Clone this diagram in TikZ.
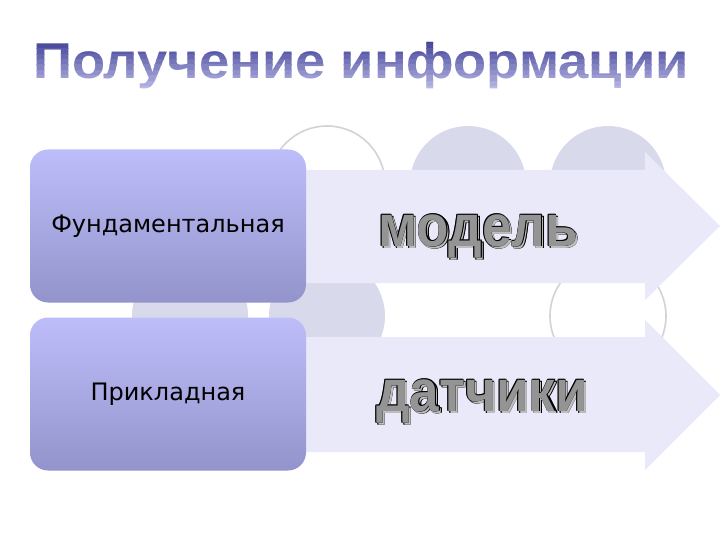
\documentclass[tikz,border=0pt]{standalone}
\usepackage{fontspec}
\setmainfont{Liberation Sans}
\newfontfamily\cardfont{DejaVu Sans}
\usetikzlibrary{positioning}
\definecolor{disc}{HTML}{D9D9EC}
\definecolor{ring}{HTML}{D2D2D8}
\definecolor{band}{HTML}{E9E9F9}
\definecolor{boxtop}{HTML}{BDBDFA}
\definecolor{boxbot}{HTML}{9494CC}
\definecolor{titletop}{HTML}{404098}
\definecolor{titlebot}{HTML}{D4D4F6}
\definecolor{word}{HTML}{949494}
\definecolor{wordshade}{HTML}{BDBDBD}
\tikzset{
	disc/.style={fill=disc},
	ring/.style={draw=ring,line width=1.6pt,fill=white},
	band/.style={fill=band},
	card/.style={rounded corners=18pt,top color=boxtop,bottom color=boxbot,minimum width=276pt,minimum height=153pt,font=\cardfont\fontsize{24}{24}\selectfont},
	headline/.style={anchor=base,inner sep=0pt,xscale=1.085,font=\bfseries\fontsize{50}{50}\selectfont},
	wordart/.style={anchor=base,inner sep=0pt,xscale=0.9,font=\bfseries\fontsize{59}{59}\selectfont}
}

\begin{document}
\begin{tikzpicture}[x=1pt,y=-1pt]
	\useasboundingbox[fill=white] (0,0) rectangle (720,540);
	
	\foreach \cx/\cy in {468/184,608/184,190/316,327/316}
		\fill[disc] (\cx,\cy) circle (58);
	\foreach \cx/\cy in {327/184,608/316}
		\draw[ring] (\cx,\cy) circle (58);
	
	\fill[band] (250,170)--(645,170)--(645,152)--(720,226)--(645,300)--(645,283)--(250,283)--cycle;
	\fill[band] (250,337)--(645,337)--(645,320)--(720,395)--(645,470)--(645,452)--(250,452)--cycle;
	
	\node[card] (fund) at (168,226) {Фундаментальная};
	\node[card] (appl) at (168,394) {Прикладная};
	
	% title, shaded in strips
	\foreach \i in {0,...,10} {
		\pgfmathsetmacro\p{100-\i*9}
		\begin{scope}
			\clip (0,38+\i*5.4) rectangle (720,43.6+\i*5.4);
			\node[headline,text=titletop!\p!titlebot] (title\i) at (361,79) {Получение информации};
		\end{scope}
	}
	
	% outlined words with a drop shadow
	\foreach \sx/\ink in {2/wordshade,0/word} {
		\foreach \a in {45,135,225,315} {
			\node[wordart,text=black] (model\a) at ([shift={(\a:0.9)}] 478+\sx,246+\sx) {модель};
			\node[wordart,text=black] (sens\a) at ([shift={(\a:0.9)}] 482+\sx,411+\sx) {датчики};
		}
		\node[wordart,text=\ink] (model) at (478+\sx,246+\sx) {модель};
		\node[wordart,text=\ink] (sens) at (482+\sx,411+\sx) {датчики};
	}
\end{tikzpicture}
\end{document}
